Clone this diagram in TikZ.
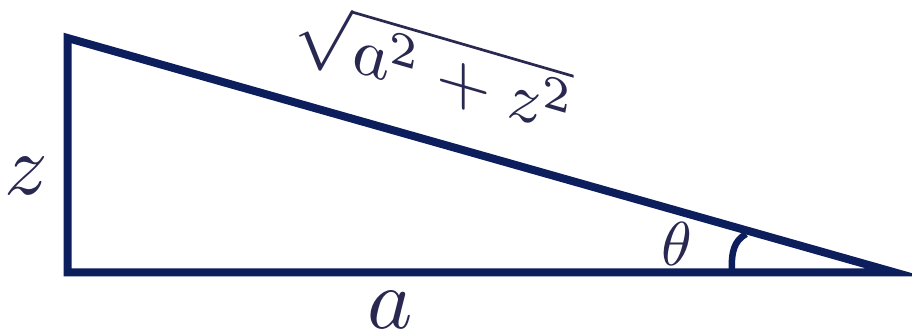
\documentclass[tikz,border=0pt]{standalone}
\definecolor{navy}{RGB}{12,30,92}
\definecolor{ink}{RGB}{40,40,80}
\begin{document}
\begin{tikzpicture}[x=1pt,y=-1pt,
  side/.style={draw=navy,line width=8pt,line join=miter},
  anglearc/.style={draw=navy,line width=6.5pt},
  biglbl/.style={text=ink,inner sep=0pt,scale=8.6},
  smalllbl/.style={text=ink,inner sep=0pt,scale=6.2}]
\useasboundingbox (0,0) rectangle (912,336);
\fill[white] (0,0) rectangle (912,336);
\coordinate (A) at (67.5,38);
\coordinate (B) at (67.5,272.5);
\coordinate (C) at (895,272.5);
\coordinate (arcS) at (732,272);
\coordinate (arcE) at (746,234);
\draw[side] (A) -- (B) -- (C) -- cycle;
\draw[anglearc] (arcS) .. controls (731,252) and (734,241) .. (arcE);
\node[biglbl] (zl) at (26,176) {$z$};
\node[biglbl] (al) at (390,310) {$a$};
\node[smalllbl] (tl) at (677,244) {$\theta$};
\node[text=ink,inner sep=0pt,scale=7,yslant=-0.29] (hl) at (434,68) {$\sqrt{a^2+z^2}$};
\end{tikzpicture}
\end{document}
